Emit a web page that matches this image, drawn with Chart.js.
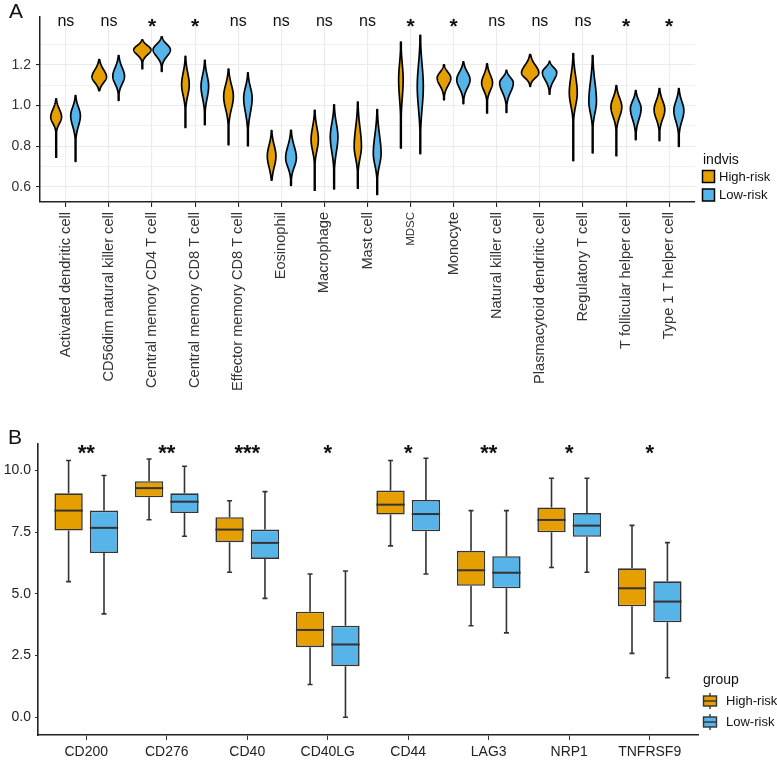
<!DOCTYPE html>
<html>
<head>
<meta charset="utf-8">
<script src="https://cdn.jsdelivr.net/npm/chart.js@4.4.0/dist/chart.umd.min.js"></script>
<style>
  body { margin: 0; background: #fff; }
  canvas { display: block; }
</style>
</head>
<body>
<canvas id="chartA" width="777" height="391"></canvas>
<canvas id="chartB" width="777" height="373"></canvas>
<script>
// ---- panel A: immune cell scores (violins) ----
const cellTypes = ['Activated dendritic cell', 'CD56dim natural killer cell', 'Central memory CD4 T cell',
  'Central memory CD8 T cell', 'Effector memory CD8 T cell', 'Eosinophil', 'Macrophage', 'Mast cell',
  'MDSC', 'Monocyte', 'Natural killer cell', 'Plasmacytoid dendritic cell', 'Regulatory T cell',
  'T follicular helper cell', 'Type 1 T helper cell'];
const sigA = ['ns', 'ns', '*', '*', 'ns', 'ns', 'ns', 'ns', '*', '*', 'ns', 'ns', 'ns', '*', '*'];

// top of violin, widest point, end of the body, end of the tail, relative width
const highMax  = [1.033, 1.226, 1.324, 1.242, 1.180, 0.877, 0.977, 1.018, 1.313, 1.201, 1.205, 1.251, 1.256, 1.098, 1.084];
const highPeak = [0.944, 1.141, 1.275, 1.103, 1.046, 0.751, 0.833, 0.799, 1.128, 1.136, 1.112, 1.161, 1.062, 0.994, 0.980];
const highBody = [0.882, 1.085, 1.226, 0.997, 0.923, 0.645, 0.726, 0.685, 0.947, 1.062, 1.038, 1.112, 0.940, 0.898, 0.890];
const highMin  = [0.746, 1.074, 1.182, 0.893, 0.808, 0.633, 0.584, 0.594, 0.792, 1.029, 0.964, 1.095, 0.730, 0.754, 0.828];
const highDens = [0.63, 0.84, 1.00, 0.44, 0.56, 0.50, 0.42, 0.42, 0.26, 0.79, 0.63, 1.00, 0.46, 0.63, 0.62];

const lowMax  = [1.049, 1.246, 1.338, 1.223, 1.161, 0.879, 1.004, 0.980, 1.346, 1.215, 1.173, 1.218, 1.246, 1.074, 1.084];
const lowPeak = [0.951, 1.144, 1.275, 1.095, 1.038, 0.743, 0.846, 0.764, 1.095, 1.128, 1.112, 1.164, 1.021, 0.985, 0.975];
const lowBody = [0.849, 1.070, 1.210, 0.980, 0.898, 0.653, 0.701, 0.653, 0.882, 1.046, 1.021, 1.087, 0.907, 0.882, 0.874];
const lowMin  = [0.726, 1.026, 1.169, 0.907, 0.803, 0.608, 0.591, 0.563, 0.764, 1.010, 0.967, 1.057, 0.768, 0.833, 0.800];
const lowDens = [0.56, 0.68, 1.00, 0.44, 0.49, 0.62, 0.44, 0.45, 0.35, 0.77, 0.79, 0.83, 0.44, 0.62, 0.58];

const yMajorA = [0.6, 0.8, 1.0, 1.2];
const yMinorA = [0.7, 0.9, 1.1, 1.3];

// ---- panel B: checkpoint gene expression (boxes) ----
const genes = ['CD200', 'CD276', 'CD40', 'CD40LG', 'CD44', 'LAG3', 'NRP1', 'TNFRSF9'];
const sigB = ['**', '**', '***', '*', '*', '**', '*', '*'];

const highLow  = [5.50, 8.01, 5.88, 1.33, 6.95, 3.71, 6.07, 2.59];
const highQ1   = [7.57, 8.92, 7.10, 2.84, 8.22, 5.33, 7.50, 4.50];
const highMed  = [8.38, 9.29, 7.61, 3.54, 8.62, 5.96, 8.00, 5.23];
const highQ3   = [9.08, 9.57, 8.11, 4.28, 9.19, 6.75, 8.51, 6.04];
const highHigh = [10.41, 10.47, 8.78, 5.81, 10.41, 8.38, 9.69, 7.78];

const lowLow  = [4.19, 7.34, 4.82, 0.00, 5.81, 3.42, 5.88, 1.60];
const lowQ1   = [6.66, 8.28, 6.42, 2.07, 7.54, 5.23, 7.32, 3.85];
const lowMed  = [7.68, 8.74, 7.07, 2.95, 8.24, 5.86, 7.77, 4.69];
const lowQ3   = [8.38, 9.08, 7.61, 3.71, 8.81, 6.53, 8.28, 5.51];
const lowHigh = [9.80, 10.18, 9.15, 5.93, 10.50, 8.38, 9.69, 7.08];

const yTicksB = [0, 2.5, 5, 7.5, 10];

const groups = ['High-risk', 'Low-risk'];
const ORANGE = '#E69F00';
const BLUE = '#56B4E9';
const FONT = "'Liberation Sans', Arial, sans-serif";

const DODGE = 0.225;      // group offset from the category centre
const VIOLIN_HALF = 0.2;  // half width of the widest violin, in x units

function drawViolin(ctx, xs, ys, xc, dens, top, peak, body, bottom, color) {
  const cx = xs.getPixelForValue(xc);
  const half = (xs.getPixelForValue(xc + dens * VIOLIN_HALF) - cx);
  const n = 100;
  const pts = [];
  for (let k = 0; k <= n; k++) {
    const v = bottom + (top - bottom) * k / n;
    let g;
    if (v >= peak) {
      const t = (v - peak) / (top - peak);
      g = Math.exp(-0.5 * Math.pow(2.4 * t, 2));
    } else {
      const t = (peak - v) / (peak - body);
      g = Math.exp(-0.5 * Math.pow(2 * t, 2));
    }
    pts.push([ys.getPixelForValue(v), Math.max(half * g, 0.35)]);
  }
  ctx.beginPath();
  pts.forEach((p, k) => { if (k === 0) ctx.moveTo(cx + p[1], p[0]); else ctx.lineTo(cx + p[1], p[0]); });
  for (let k = pts.length - 1; k >= 0; k--) ctx.lineTo(cx - pts[k][1], pts[k][0]);
  ctx.closePath();
  ctx.fillStyle = color;
  ctx.fill();
  ctx.lineWidth = 1.7;
  ctx.lineJoin = 'round';
  ctx.strokeStyle = '#000';
  ctx.stroke();
}

const violinPlugin = {
  id: 'violins',
  afterDatasetsDraw(chart) {
    const ctx = chart.ctx, xs = chart.scales.x, ys = chart.scales.y;
    ctx.save();
    cellTypes.forEach((c, i) => {
      drawViolin(ctx, xs, ys, i - DODGE, highDens[i], highMax[i], highPeak[i], highBody[i], highMin[i], ORANGE);
      drawViolin(ctx, xs, ys, i + DODGE, lowDens[i], lowMax[i], lowPeak[i], lowBody[i], lowMin[i], BLUE);
    });
    // significance labels
    ctx.fillStyle = '#111';
    ctx.textAlign = 'center';
    ctx.textBaseline = 'alphabetic';
    const p = ys.getPixelForValue(1.40);
    sigA.forEach((s, i) => {
      const x = xs.getPixelForValue(i);
      if (s === 'ns') {
        ctx.font = '16px ' + FONT;
        ctx.fillText(s, x, p + 2);
      } else {
        ctx.font = 'bold 21px ' + FONT;
        ctx.fillText(s, x, p + 9);
      }
    });
    ctx.restore();
  },
  afterDraw(chart) {
    const ctx = chart.ctx;
    const r = chart.chartArea.right;
    ctx.save();
    ctx.fillStyle = '#111';
    ctx.font = '21px ' + FONT;
    ctx.textAlign = 'left';
    ctx.textBaseline = 'alphabetic';
    ctx.fillText('A', 9, 18);
    // legend
    ctx.font = '14px ' + FONT;
    ctx.fillText('indvis', r + 8, 164);
    [ORANGE, BLUE].forEach((col, k) => {
      const y = 170.5 + k * 18.5;
      ctx.fillStyle = col;
      ctx.fillRect(r + 7.5, y, 12, 12);
      ctx.strokeStyle = '#000';
      ctx.lineWidth = 1.5;
      ctx.strokeRect(r + 7.5, y, 12, 12);
      ctx.fillStyle = '#111';
      ctx.font = '13px ' + FONT;
      ctx.textBaseline = 'middle';
      ctx.fillText(groups[k], r + 24, y + 6.5);
    });
    ctx.restore();
  }
};

new Chart(document.getElementById('chartA'), {
  type: 'scatter',
  data: {
    datasets: [
      { label: groups[0], data: highPeak.map((v, i) => ({ x: i - DODGE, y: v })), pointRadius: 0 },
      { label: groups[1], data: lowPeak.map((v, i) => ({ x: i + DODGE, y: v })), pointRadius: 0 }
    ]
  },
  options: {
    responsive: false,
    animation: false,
    layout: { padding: { left: 0, right: 82, top: 17, bottom: 0 } },
    plugins: { legend: { display: false }, tooltip: { enabled: false } },
    scales: {
      x: {
        type: 'linear', min: -0.6, max: 14.6,
        afterBuildTicks: s => { s.ticks = cellTypes.map((c, i) => ({ value: i })); },
        afterFit: s => { s.height = 189; },
        ticks: {
          autoSkip: false, minRotation: 90, maxRotation: 90, padding: 5, color: '#333',
          font: c => ({ family: FONT, size: c.index === 8 ? 11.5 : 14.6 }),
          callback: v => cellTypes[v]
        },
        grid: { color: '#ebebeb', lineWidth: 1.1, tickColor: '#222', tickLength: 5 },
        border: { color: '#222', width: 1.5 }
      },
      y: {
        min: 0.526, max: 1.436,
        afterBuildTicks: s => { s.ticks = yMajorA.concat(yMinorA).sort((a, b) => a - b).map(v => ({ value: v })); },
        afterFit: s => { s.width = 40; },
        ticks: {
          padding: 5, color: '#333', font: { family: FONT, size: 14 },
          callback: v => yMajorA.includes(v) ? v.toFixed(1) : ''
        },
        grid: {
          color: '#ebebeb',
          lineWidth: c => yMajorA.includes(c.tick.value) ? 1.1 : 0.7,
          tickColor: c => yMajorA.includes(c.tick.value) ? '#222' : 'rgba(0,0,0,0)',
          tickLength: 4
        },
        border: { color: '#222', width: 1.5 }
      }
    }
  },
  plugins: [violinPlugin]
});

// panel B: boxes are floating bars [Q1, Q3]; medians and whiskers added on top
const boxPlugin = {
  id: 'boxes',
  afterDatasetsDraw(chart) {
    const ctx = chart.ctx, ys = chart.scales.y;
    const stats = [
      [highLow, highMed, highHigh, highQ1, highQ3],
      [lowLow, lowMed, lowHigh, lowQ1, lowQ3]
    ];
    ctx.save();
    ctx.strokeStyle = '#333';
    stats.forEach((st, d) => {
      const meta = chart.getDatasetMeta(d);
      meta.data.forEach((bar, i) => {
        const x = bar.x, w = bar.width;
        ctx.lineWidth = 1.6;
        ctx.beginPath();
        ctx.moveTo(x, ys.getPixelForValue(st[4][i]));
        ctx.lineTo(x, ys.getPixelForValue(st[2][i]));
        ctx.moveTo(x, ys.getPixelForValue(st[3][i]));
        ctx.lineTo(x, ys.getPixelForValue(st[0][i]));
        ctx.moveTo(x - 2.5, ys.getPixelForValue(st[2][i]));
        ctx.lineTo(x + 2.5, ys.getPixelForValue(st[2][i]));
        ctx.moveTo(x - 2.5, ys.getPixelForValue(st[0][i]));
        ctx.lineTo(x + 2.5, ys.getPixelForValue(st[0][i]));
        ctx.stroke();
        ctx.lineWidth = 2;
        ctx.beginPath();
        ctx.moveTo(x - w / 2, ys.getPixelForValue(st[1][i]));
        ctx.lineTo(x + w / 2, ys.getPixelForValue(st[1][i]));
        ctx.stroke();
      });
    });
    // significance stars
    const xs = chart.scales.x;
    ctx.fillStyle = '#111';
    ctx.font = 'bold 22px ' + FONT;
    ctx.textAlign = 'center';
    ctx.textBaseline = 'alphabetic';
    const p = ys.getPixelForValue(10.8);
    sigB.forEach((s, i) => ctx.fillText(s, xs.getPixelForValue(i), p + 9));
    ctx.restore();
  },
  afterDraw(chart) {
    const ctx = chart.ctx;
    const r = chart.chartArea.right;
    ctx.save();
    ctx.fillStyle = '#111';
    ctx.font = '21px ' + FONT;
    ctx.textAlign = 'left';
    ctx.textBaseline = 'alphabetic';
    ctx.fillText('B', 8, 53);
    ctx.font = '14px ' + FONT;
    ctx.fillText('group', r + 5, 293);
    [ORANGE, BLUE].forEach((col, k) => {
      const y0 = 302 + k * 21;
      const cx = r + 12;
      ctx.strokeStyle = '#333';
      ctx.lineWidth = 1.4;
      ctx.beginPath();
      ctx.moveTo(cx, y0); ctx.lineTo(cx, y0 + 16);
      ctx.stroke();
      ctx.fillStyle = col;
      ctx.fillRect(cx - 6.5, y0 + 3, 13, 10);
      ctx.strokeRect(cx - 6.5, y0 + 3, 13, 10);
      ctx.beginPath();
      ctx.moveTo(cx - 6.5, y0 + 8); ctx.lineTo(cx + 6.5, y0 + 8);
      ctx.stroke();
      ctx.fillStyle = '#111';
      ctx.font = '13px ' + FONT;
      ctx.textBaseline = 'middle';
      ctx.fillText(groups[k], r + 28, y0 + 8.5);
    });
    ctx.restore();
  }
};

new Chart(document.getElementById('chartB'), {
  type: 'bar',
  data: {
    datasets: [
      { label: groups[0], data: genes.map((g, i) => ({ x: i, y: [highQ1[i], highQ3[i]] })), backgroundColor: ORANGE },
      { label: groups[1], data: genes.map((g, i) => ({ x: i, y: [lowQ1[i], lowQ3[i]] })), backgroundColor: BLUE }
    ]
  },
  options: {
    responsive: false,
    animation: false,
    layout: { padding: { left: 0, right: 79, top: 53, bottom: 0 } },
    datasets: {
      bar: { categoryPercentage: 0.88, barPercentage: 0.8, borderColor: '#333', borderWidth: 1.6, borderSkipped: false }
    },
    plugins: { legend: { display: false }, tooltip: { enabled: false } },
    scales: {
      x: {
        type: 'linear', min: -0.6, max: 7.6, offset: false,
        afterBuildTicks: s => { s.ticks = genes.map((g, i) => ({ value: i })); },
        afterFit: s => { s.height = 29; },
        ticks: { padding: 4, color: '#222', font: { family: FONT, size: 14 }, callback: v => genes[v] },
        grid: { offset: false, drawOnChartArea: false, tickColor: '#333', tickLength: 5 },
        border: { color: '#222', width: 1.6 }
      },
      y: {
        min: -0.72, max: 11.08,
        afterBuildTicks: s => { s.ticks = yTicksB.map(v => ({ value: v })); },
        afterFit: s => { s.width = 38; },
        ticks: { padding: 4, color: '#222', font: { family: FONT, size: 14 }, callback: v => v.toFixed(1) },
        grid: { drawOnChartArea: false, tickColor: '#333', tickLength: 3 },
        border: { color: '#222', width: 1.6 }
      }
    }
  },
  plugins: [boxPlugin]
});
</script>
</body>
</html>
